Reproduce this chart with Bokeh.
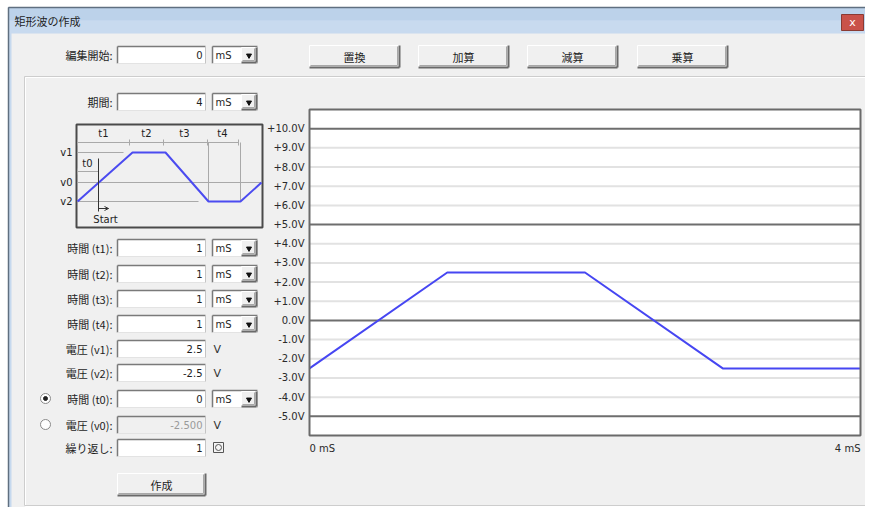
from bokeh.plotting import figure
from bokeh.models import Range1d
from bokeh.core.properties import value
from bokeh.embed import file_html
from bokeh.resources import INLINE

# ---------------- chart data ----------------
wave_time_ms = [0, 1, 2, 3, 4]
wave_volts = [-2.5, 2.5, 2.5, -2.5, -2.5]
volt_ticks = [10, 9, 8, 7, 6, 5, 4, 3, 2, 1, 0, -1, -2, -3, -4, -5]
volt_tick_labels = ["+10.0V", "+9.0V", "+8.0V", "+7.0V", "+6.0V", "+5.0V",
                    "+4.0V", "+3.0V", "+2.0V", "+1.0V", "0.0V", "-1.0V",
                    "-2.0V", "-3.0V", "-4.0V", "-5.0V"]
major_volts = [10, 5, 0, -5]
minor_volts = [9, 8, 7, 6, 4, 3, 2, 1, -1, -2, -3, -4]
volt_limits = [-6, 11]
time_ticks = [0, 4]
time_tick_labels = ["0 mS", "4 mS"]
time_limits = [0, 4]

# ---------------- dialog texts ----------------
title_text = "矩形波の作成"
op_buttons = ["置換", "加算", "減算", "乗算"]
field_labels = ["編集開始:", "期間:", "時間 (t1):", "時間 (t2):", "時間 (t3):",
                "時間 (t4):", "電圧 (v1):", "電圧 (v2):", "時間 (t0):",
                "電圧 (v0):", "繰り返し:"]
field_values = ["0", "4", "1", "1", "1", "1", "2.5", "-2.5", "0", "-2.500", "1"]
field_units = ["mS", "mS", "mS", "mS", "mS", "mS", "V", "V", "mS", "V", "rep"]
create_label = "作成"
diagram_t_labels = ["t1", "t2", "t3", "t4"]
diagram_v_labels = ["v1", "v0", "v2"]

# ---------------- layout (reference pixel coordinates) ----------------
W, H = 865, 507
FX0, FY0 = 0, 0
FX1, FY1 = FX0 + W, FY0 + H
JP = value("Noto Sans CJK JP")
LAT = value("DejaVu Sans")
TXT = "#1e1e1e"

p = figure(width=W, height=H, x_range=Range1d(FX0, FX1), y_range=Range1d(FY1, FY0),
           output_backend="svg", toolbar_location=None,
           x_axis_location=None, y_axis_location=None, min_border=0)
p.outline_line_color = None
p.grid.grid_line_color = None
p.background_fill_color = "#ffffff"
p.border_fill_color = "#ffffff"

# chart plot box
CX0, CX1, CY0, CY1 = 309, 860, 109, 435
sx = (CX1 - CX0) / (time_limits[1] - time_limits[0])
sy = (CY1 - CY0) / (volt_limits[1] - volt_limits[0])
p.extra_x_ranges = {"t": Range1d(time_limits[0] + (FX0 - CX0) / sx,
                                 time_limits[0] + (FX1 - CX0) / sx)}
p.extra_y_ranges = {"v": Range1d(volt_limits[1] - (FY1 - CY0) / sy,
                                 volt_limits[1] - (FY0 - CY0) / sy)}


def box(l, r, t, b, fill, line=None, lw=1):
    p.quad(left=[l], right=[r], top=[t], bottom=[b], fill_color=fill,
           line_color=line, line_width=lw)


def seg(x0, y0, x1, y1, color, w=1):
    p.segment(x0=[x0], y0=[y0], x1=[x1], y1=[y1], line_color=color, line_width=w)


def txt(x, y, s, size=11, color=TXT, align="left", font=JP):
    p.text(x=[x], y=[y], text=[s], text_font=font, text_font_size=f"{size}px",
           text_color=color, text_align=align, text_baseline="middle")


def sunken(l, r, t, b, fill="#ffffff"):
    box(l, r, t, b, fill)
    seg(l, t, r, t, "#7a7a7a", 1.5)
    seg(l, t, l, b, "#7a7a7a", 1.5)
    seg(l, b, r, b, "#e3e3e3", 1)
    seg(r, t, r, b, "#c4c4c4", 1)


def raised(l, r, t, b):
    box(l, r, t, b, "#f0f0f0")
    seg(l, t, r, t, "#ffffff", 1)
    seg(l, t, l, b, "#ffffff", 1)
    seg(l, b, r, b, "#6a6a6a", 2)
    seg(r, t, r, b, "#6a6a6a", 2)
    seg(l + 1, b - 2, r - 2, b - 2, "#a8a8a8", 1)
    seg(r - 2, t + 1, r - 2, b - 2, "#a8a8a8", 1)


def dropdown(yc):
    sunken(212, 257, yc - 8, yc + 9)
    txt(215, yc + 0.5, "mS", 10, TXT, "left", LAT)
    raised(241, 256, yc - 7, yc + 8)
    p.scatter(x=[248.5], y=[yc + 1], marker="inverted_triangle", size=5,
              fill_color="#111111", line_color="#111111")


# ---------------- window chrome ----------------
box(8, 881, 7, 523, "#c6d9ee", "#6f7f90", 1)
box(8, 881, 7, 20, "#bcd2ea")
box(8, 881, 20, 33, "#c8daef")
seg(8, 7, 881, 7, "#5f6f80", 1.5)
seg(8, 7, 8, 523, "#5f6f80", 1.5)
box(11, 878, 33, 520, "#f0f0f0")
txt(14, 20, title_text, 11)
box(841, 863, 14, 30, "#c9524a", "#8a3a33", 1)
txt(852, 22, "x", 11, "#ffffff", "center", LAT)

# group box (etched)
box(25, 877, 77, 506, None, "#ffffff", 1)
box(24, 876, 76, 505, None, "#cdcdcd", 1)

# top buttons
for i, name in enumerate(op_buttons):
    l = [309, 418, 527, 637][i]
    raised(l, l + 90, 45, 67)
    txt(l + 45, 56, name, 11, TXT, "center")

# form rows
row_y = [54, 101, 247, 273, 298, 323, 348, 372, 398, 424, 447]
for lab, val, unit, yc in zip(field_labels, field_values, field_units, row_y):
    disabled = lab.startswith("電圧 (v0)")
    txt(112, yc, lab, 11, TXT, "right")
    if disabled:
        sunken(117, 205, yc - 8, yc + 9, "#f0f0f0")
        txt(202, yc + 0.5, val, 10, "#9a9a9a", "right", LAT)
    else:
        sunken(117, 205, yc - 8, yc + 9)
        txt(202, yc + 0.5, val, 10, TXT, "right", LAT)
    if unit == "mS":
        dropdown(yc)
    elif unit == "V":
        txt(213, yc + 0.5, "V", 11, "#333333", "left", LAT)
    else:
        box(213, 223, yc - 5, yc + 5, "#f4f4f4", "#555555", 1)
        p.scatter(x=[218], y=[yc], marker="circle", size=6,
                  fill_color=None, line_color="#555555")

# radio buttons
p.scatter(x=[45, 45], y=[398, 424], marker="circle", size=10,
          fill_color="#ffffff", line_color="#8a8a8a")
p.scatter(x=[45], y=[398], marker="circle", size=4,
          fill_color="#222222", line_color="#222222")

# create button
raised(117, 205, 473, 495)
txt(161, 484, create_label, 11, TXT, "center")

# ---------------- schematic icon ----------------
box(76, 262, 124, 227, "#f0f0f0", "#4a4a4a", 2)
G = "#a9a9a9"
seg(77, 142, 238, 142, G)
for xb in [77, 129, 163, 207, 238]:
    seg(xb, 139, xb, 145, G)
for lab, xc in zip(diagram_t_labels, [103, 146, 184, 222]):
    txt(xc, 133, lab, 10, TXT, "center", LAT)
seg(77, 152, 123, 152, G)
seg(77, 182, 261, 182, G)
seg(77, 201, 198, 201, G)
seg(208, 142, 208, 201, G)
seg(240, 142, 240, 201, G)
seg(77, 171, 98, 171, G)
seg(77, 168, 77, 174, G)
txt(87, 163, "t0", 10, TXT, "center", LAT)
for lab, yv in zip(diagram_v_labels, [152, 182, 201]):
    txt(72, yv, lab, 10, TXT, "right", LAT)
p.line(x=[77, 132, 165, 208, 240, 261], y=[201, 152, 152, 201, 201, 182],
       line_color="#4b4bf0", line_width=2)
seg(98, 158, 98, 211, "#333333", 1)
seg(98, 208, 108, 208, "#333333", 1)
seg(108, 208, 104, 206, "#333333", 1)
seg(108, 208, 104, 210, "#333333", 1)
txt(105, 219, "Start", 10, TXT, "center", LAT)

# ---------------- waveform chart ----------------
box(CX0, CX1, CY0, CY1, "#ffffff")
p.segment(x0=[time_limits[0]] * len(minor_volts), x1=[time_limits[1]] * len(minor_volts),
          y0=minor_volts, y1=minor_volts, x_range_name="t", y_range_name="v",
          line_color="#e2e2e2", line_width=2)
p.segment(x0=[time_limits[0]] * len(major_volts), x1=[time_limits[1]] * len(major_volts),
          y0=major_volts, y1=major_volts, x_range_name="t", y_range_name="v",
          line_color="#6e6e6e", line_width=2)
p.line(x=wave_time_ms, y=wave_volts, x_range_name="t", y_range_name="v",
       line_color="#4646f2", line_width=2)
box(CX0, CX1, CY0, CY1, None, "#6a6a6a", 2)

p.text(x=[CX0 - 5] * len(volt_ticks), y=volt_ticks, text=volt_tick_labels,
       y_range_name="v", text_font=LAT, text_font_size="10px", text_color="#2a2a2a",
       text_align="right", text_baseline="middle")
p.text(x=[time_ticks[0]], y=[448], text=[time_tick_labels[0]], x_range_name="t",
       text_font=LAT, text_font_size="10px", text_color="#2a2a2a",
       text_align="left", text_baseline="middle")
p.text(x=[time_ticks[1]], y=[448], text=[time_tick_labels[1]], x_range_name="t",
       text_font=LAT, text_font_size="10px", text_color="#2a2a2a",
       text_align="right", text_baseline="middle")

open("out.html", "w").write(file_html(p, INLINE))
